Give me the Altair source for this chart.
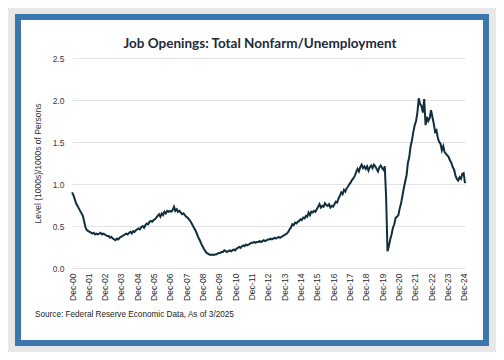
import altair as alt
import pandas as pd

# Job openings / unemployed persons, monthly (Dec 2000 .. Jan 2025)
dec_2000 = [0.90]
y2001 = [0.87, 0.82, 0.77, 0.74, 0.71, 0.68, 0.65, 0.62, 0.55, 0.48, 0.45, 0.44]
y2002 = [0.43, 0.42, 0.41, 0.42, 0.40, 0.41, 0.40, 0.41, 0.42, 0.40, 0.41, 0.40]
y2003 = [0.39, 0.38, 0.38, 0.36, 0.37, 0.35, 0.34, 0.33, 0.35, 0.34, 0.36, 0.37]
y2004 = [0.38, 0.39, 0.40, 0.41, 0.40, 0.42, 0.43, 0.41, 0.44, 0.43, 0.45, 0.46]
y2005 = [0.47, 0.46, 0.49, 0.50, 0.48, 0.51, 0.53, 0.52, 0.55, 0.56, 0.55, 0.57]
y2006 = [0.58, 0.60, 0.62, 0.64, 0.61, 0.65, 0.63, 0.67, 0.65, 0.68, 0.67, 0.68]
y2007 = [0.67, 0.69, 0.73, 0.68, 0.70, 0.67, 0.68, 0.66, 0.64, 0.65, 0.63, 0.61]
y2008 = [0.60, 0.58, 0.56, 0.53, 0.50, 0.47, 0.44, 0.40, 0.36, 0.33, 0.29, 0.26]
y2009 = [0.23, 0.20, 0.18, 0.17, 0.16, 0.155, 0.16, 0.155, 0.16, 0.16, 0.17, 0.18]
y2010 = [0.18, 0.19, 0.19, 0.21, 0.20, 0.19, 0.20, 0.21, 0.20, 0.21, 0.22, 0.21]
y2011 = [0.23, 0.24, 0.25, 0.24, 0.26, 0.27, 0.26, 0.28, 0.27, 0.28, 0.29, 0.30]
y2012 = [0.30, 0.31, 0.30, 0.31, 0.31, 0.32, 0.31, 0.32, 0.33, 0.32, 0.33, 0.34]
y2013 = [0.34, 0.35, 0.34, 0.35, 0.36, 0.35, 0.36, 0.37, 0.36, 0.37, 0.38, 0.39]
y2014 = [0.40, 0.41, 0.43, 0.46, 0.48, 0.52, 0.51, 0.54, 0.53, 0.55, 0.56, 0.58]
y2015 = [0.57, 0.60, 0.59, 0.62, 0.61, 0.66, 0.63, 0.67, 0.66, 0.68, 0.67, 0.70]
y2016 = [0.73, 0.76, 0.72, 0.74, 0.73, 0.77, 0.75, 0.74, 0.76, 0.72, 0.74, 0.73]
y2017 = [0.76, 0.79, 0.78, 0.83, 0.86, 0.90, 0.88, 0.93, 0.91, 0.95, 0.97, 1.00]
y2018 = [1.02, 1.05, 1.07, 1.10, 1.14, 1.18, 1.15, 1.20, 1.23, 1.19, 1.21, 1.18]
y2019 = [1.21, 1.16, 1.20, 1.22, 1.19, 1.23, 1.21, 1.18, 1.15, 1.20, 1.22, 1.19]
y2020 = [1.17, 1.21, 0.84, 0.20, 0.26, 0.34, 0.40, 0.48, 0.52, 0.60, 0.61, 0.63]
y2021 = [0.71, 0.77, 0.86, 0.95, 1.03, 1.10, 1.25, 1.32, 1.45, 1.52, 1.62, 1.70]
y2022 = [1.75, 1.85, 2.02, 1.95, 1.93, 1.85, 2.01, 1.70, 1.80, 1.75, 1.78, 1.88]
y2023 = [1.80, 1.72, 1.62, 1.64, 1.55, 1.50, 1.48, 1.40, 1.45, 1.38, 1.36, 1.34]
y2024 = [1.32, 1.28, 1.25, 1.20, 1.17, 1.10, 1.06, 1.04, 1.08, 1.06, 1.12, 1.13]
jan_2025 = [1.01]

values = (dec_2000 + y2001 + y2002 + y2003 + y2004 + y2005 + y2006 + y2007 + y2008
          + y2009 + y2010 + y2011 + y2012 + y2013 + y2014 + y2015 + y2016 + y2017
          + y2018 + y2019 + y2020 + y2021 + y2022 + y2023 + y2024 + jan_2025)

y_ticks = [0.0, 0.5, 1.0, 1.5, 2.0, 2.5]
x_ticks = list(range(0, 289, 12))  # every December, Dec-00 .. Dec-24

title_text = "Job Openings: Total Nonfarm/Unemployment"
y_title = "Level (1000s)/1000s of Persons"
source_text = "Source: Federal Reserve Economic Data, As of 3/2025"

df = pd.DataFrame({"month": list(range(len(values))), "ratio": values})
one = pd.DataFrame({"a": [0]})

GRAY = "#e8e8e8"
BLUE = "#3b77ae"
LINE = "#102e3d"

outer = alt.Chart(one).mark_rect(fillOpacity=0, stroke=GRAY, strokeWidth=20).encode(
    x=alt.value(-67), x2=alt.value(427), y=alt.value(-54), y2=alt.value(298)
)
frame = alt.Chart(one).mark_rect(fillOpacity=0, stroke=BLUE, strokeWidth=6).encode(
    x=alt.value(-54), x2=alt.value(414), y=alt.value(-41), y2=alt.value(285)
)

line = alt.Chart(df).mark_line(color=LINE, strokeWidth=2).encode(
    x=alt.X(
        "month:Q",
        scale=alt.Scale(domain=[0, len(values) - 1], nice=False, zero=False),
        axis=alt.Axis(
            values=x_ticks,
            labelExpr="'Dec-' + slice('0' + toString(floor(datum.value / 12)), -2)",
            labelAngle=270,
            labelFont="Liberation Sans",
            labelFontSize=8.5,
            labelColor="#2a2a2a",
            labelPadding=5,
            labelOverlap=False,
            ticks=False,
            domain=False,
            grid=False,
            title=None,
        ),
    ),
    y=alt.Y(
        "ratio:Q",
        scale=alt.Scale(domain=[0, 2.5], nice=False, zero=True),
        axis=alt.Axis(
            values=y_ticks,
            format=".1f",
            labelFont="Liberation Sans",
            labelFontSize=8.5,
            labelColor="#3a3a3a",
            labelPadding=8,
            ticks=False,
            domain=False,
            grid=True,
            gridColor="#e3e3e3",
            gridWidth=1,
            title=y_title,
            titleFont="Liberation Sans",
            titleFontSize=8.5,
            titleFontWeight="normal",
            titleColor="#333333",
            titleAngle=270,
            titleX=-35,
            titleY=105,
            titleAlign="center",
            titleBaseline="middle",
        ),
    ),
)

title = alt.Chart(one).mark_text(
    text=title_text, font="Lato", fontSize=13.5, fontWeight="bold",
    color="#1b2a3a", align="center", baseline="alphabetic"
).encode(x=alt.value(188), y=alt.value(-10.5))

source = alt.Chart(one).mark_text(
    text=source_text, font="Liberation Sans", fontSize=8.2,
    color="#222222", align="left", baseline="alphabetic"
).encode(x=alt.value(-37), y=alt.value(259))

chart = alt.layer(outer, frame, line, title, source).properties(
    width=393,
    height=210,
    padding={"left": 64, "top": 50, "right": 31, "bottom": 84},
    autosize=alt.AutoSizeParams(type="none"),
    background="white",
).configure_view(stroke=None)

chart.save("out.html", embed_options={"renderer": "svg", "actions": False})
